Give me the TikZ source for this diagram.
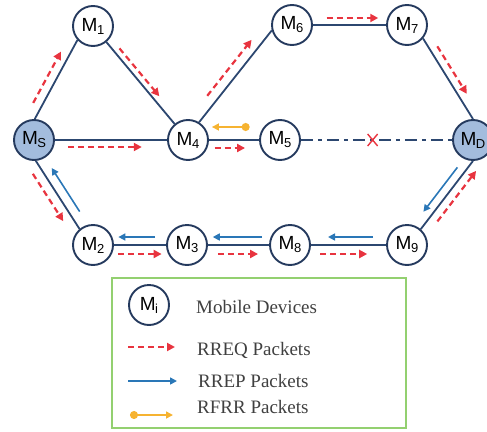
\documentclass[tikz,border=0pt]{standalone}
\usepackage{fontspec}
\setmainfont{Liberation Serif}
\newfontfamily\labelfont{Liberation Sans}
\usetikzlibrary{arrows.meta,calc}

\definecolor{nodeline}{HTML}{253A5E}
\definecolor{endfill}{HTML}{A3BCDD}
\definecolor{linkcol}{HTML}{2C4770}
\definecolor{reqred}{HTML}{E8343F}
\definecolor{repblue}{HTML}{2A77B7}
\definecolor{errorange}{HTML}{F6B331}
\definecolor{legendgreen}{HTML}{93D070}
\definecolor{legendtext}{HTML}{404040}

% node label: M with a subscript
\newcommand\mlabel[1]{{\labelfont\fontsize{19}{19}\selectfont M\kern-0.5pt\raisebox{-3pt}{\fontsize{13}{13}\selectfont #1}}}
% packet arrow running beside a link: style, from, to, start, end, side offset
\newcommand\packet[6]{\draw[#1] ($(#2)!#4!(#3)!#6!90:(#3)$) -- ($(#2)!#5!(#3)!#6!90:(#3)$);}

\begin{document}
\begin{tikzpicture}[x=1pt,y=-1pt,
  mobile/.style={circle, draw=nodeline, line width=1.9pt, fill=white,
    minimum size=40pt, inner sep=0pt},
  endpoint/.style={mobile, fill=endfill},
  link/.style={draw=linkcol, line width=1.8pt},
  rreq/.style={draw=reqred, line width=2.2pt, dash pattern=on 6pt off 4pt,
    -{Triangle[length=8pt,width=8pt]}},
  rrep/.style={draw=repblue, line width=1.6pt, -{Triangle[length=7pt,width=7pt]}},
  rerr/.style={draw=errorange, line width=1.6pt,
    {Circle[length=8pt]}-{Triangle[length=7pt,width=7pt]}},
  legendtxt/.style={anchor=base west, inner sep=0pt, text=legendtext,
    font=\fontsize{19}{20}\selectfont}]
\useasboundingbox (0,0) rectangle (487,431);
\clip (0,0) rectangle (487,431);

% mobile devices
\node[mobile]   (M1) at (93,26)   {\mlabel{1}};
\node[mobile]   (M6) at (292,25)  {\mlabel{6}};
\node[mobile]   (M7) at (407,25)  {\mlabel{7}};
\node[endpoint] (MS) at (34,140)  {\mlabel{S}};
\node[mobile]   (M4) at (188,140) {\mlabel{4}};
\node[mobile]   (M5) at (280,140) {\mlabel{5}};
\node[endpoint] (MD) at (473,140) {\mlabel{D}};
\node[mobile]   (M2) at (93,245)  {\mlabel{2}};
\node[mobile]   (M3) at (187,245) {\mlabel{3}};
\node[mobile]   (M8) at (290,245) {\mlabel{8}};
\node[mobile]   (M9) at (407,245) {\mlabel{9}};

% links
\draw[link] (MS.88) -- (M1.222);
\draw[link] (M1) -- (M4);
\draw[link] (MS) -- (M4);
\draw[link] (M4.58) -- (M6.195);
\draw[link] (M6) -- (M7);
\draw[link] (M7.-40) -- (MD.90);
\draw[link] (M4) -- (M5);
\draw[link, dash pattern=on 12pt off 5pt on 4pt off 5pt] (M5) -- (MD);
\draw[link] (MS.275) -- (M2.130);
\draw[link] (M2) -- (M3);
\draw[link] (M3) -- (M8);
\draw[link] (M8) -- (M9);
\draw[link] (M9.49) -- (MD.270);

% broken link mark
\coordinate (cut) at ($(M5)!0.48!(MD)$);
\draw[reqred, line width=1.4pt] ($(cut)+(-5,-6)$) -- ($(cut)+(5,6)$)
  ($(cut)+(-5,6)$) -- ($(cut)+(5,-6)$);

% route requests, replies and errors
\packet{rreq}{MS.88}{M1.222}{0.15}{0.80}{9pt}
\packet{rreq}{M1}{M4}{0.23}{0.65}{6pt}
\packet{rreq}{MS}{M4}{0.22}{0.70}{-7pt}
\packet{rreq}{M4.58}{M6.195}{0.22}{0.83}{10pt}
\packet{rreq}{M6}{M7}{0.30}{0.75}{7pt}
\packet{rreq}{M7.-40}{MD.90}{0.15}{0.74}{8pt}
\packet{rerr}{M5}{M4}{0.33}{0.74}{-13pt}
\packet{rreq}{M4}{M5}{0.29}{0.62}{-8pt}
\packet{rrep}{MD.270}{M9.49}{0.17}{0.82}{-8.5pt}
\packet{rreq}{M9.49}{MD.270}{0.19}{0.93}{-8.5pt}
\packet{rrep}{M9}{M8}{0.29}{0.675}{-8pt}
\packet{rreq}{M8}{M9}{0.26}{0.66}{-9pt}
\packet{rrep}{M8}{M3}{0.27}{0.75}{-8pt}
\packet{rreq}{M3}{M8}{0.30}{0.69}{-9pt}
\packet{rrep}{M3}{M2}{0.34}{0.73}{-8pt}
\packet{rreq}{M2}{M3}{0.27}{0.73}{-9pt}
\packet{rrep}{M2.130}{MS.275}{0.18}{0.82}{-9.5pt}
\packet{rreq}{MS.275}{M2.130}{0.115}{0.81}{-9.5pt}

% legend
\node[draw=legendgreen, line width=2pt, minimum width=294pt, minimum height=150pt,
  inner sep=0pt] (legend) at (259,353) {};
\node[mobile] (Mi) at (149,305) {\mlabel{i}};
\coordinate (reqA) at (128,347);
\coordinate (reqB) at (175,347);
\coordinate (repA) at (128,381);
\coordinate (repB) at (177,381);
\coordinate (errA) at (130,415);
\coordinate (errB) at (173,415);
\draw[rreq] (reqA) -- (reqB);
\draw[rrep] (repA) -- (repB);
\draw[rerr] (errA) -- (errB);
\node[legendtxt] (tMi)  at (196,313) {Mobile Devices};
\node[legendtxt] (tReq) at (197,355) {RREQ Packets};
\node[legendtxt] (tRep) at (198,387) {RREP Packets};
\node[legendtxt] (tErr) at (197,413) {RFRR Packets};
\end{tikzpicture}
\end{document}
